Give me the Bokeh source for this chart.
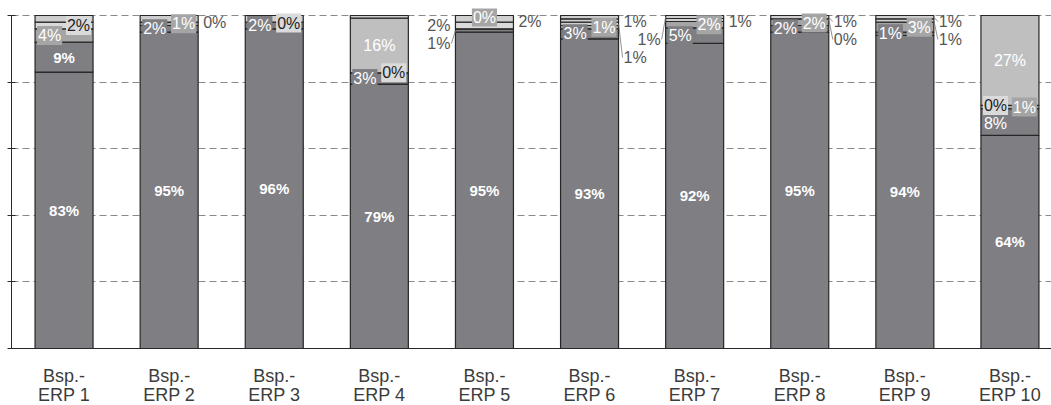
from bokeh.plotting import figure
from bokeh.models import Range1d, FixedTicker, ColumnDataSource, Span
from bokeh.embed import file_html
from bokeh.resources import INLINE
from bokeh.core.properties import value

# ---------------- data ----------------
CATEGORIES = ["Bsp.-\nERP 1", "Bsp.-\nERP 2", "Bsp.-\nERP 3", "Bsp.-\nERP 4", "Bsp.-\nERP 5",
              "Bsp.-\nERP 6", "Bsp.-\nERP 7", "Bsp.-\nERP 8", "Bsp.-\nERP 9", "Bsp.-\nERP 10"]
# stacked shares in percent, bottom to top (None = segment not present)
S1 = [83, 95, 96, 79.4, 95, 93, 91.6, 95, 94, 64]
S2 = [9, 2, 2, 3.4, 1, 3, 4.7, 2, 1, 8]
S3 = [4, 1, None, None, 0, 1, 1.9, 2, 3, 1]
S4 = [2, 0, 0, 0, 2, None, None, None, None, 0]
S5 = [None, None, None, 16.4, None, None, None, None, None, 27]
S6 = [None, None, None, None, 2, 1, 0.9, 0, 1, None]
S7 = [None, None, None, None, None, 1, 0.9, 1, 1, None]
REST = [2, 2, 2, 0.8, 0, 1, 0, 0, 0, 0]
Y_TICKS = [0, 20, 40, 60, 80, 100]

SERIES = [S1, S2, S3, S4, S5, S6, S7, REST]

# ---------------- styles ----------------
# label placement per series / bar: c=centre, l/r=inside left/right, t=top centre,
# ol/or=outside left/right, None=no label
PLACE = [
    ["c"] * 10,
    ["c", "l", "l", "l", "ol", "l", "l", "l", "l", "l"],
    ["l", "r", None, None, "t", "r", "r", "r", "r", "r"],
    ["r", "or", "r", "r", "ol", None, None, None, None, "l"],
    [None, None, None, "c", None, None, None, None, None, "c"],
    [None, None, None, None, "or", "or", "or", "or", "or", None],
    [None, None, None, None, None, "or", "ol", "or", "or", None],
    [None] * 10,
]
FILL = ["#7e7e83", "#7e7e83", "#a5a5a5", "#dadada", "#bfbfbf", "#d0d0d0", "#d0d0d0", "#cdcdcd"]
INK = ["#ffffff", "#ffffff", "#ffffff", "#1e1e1e", "#ffffff", "#555555", "#555555", "#555555"]
FONT = value("Liberation Sans")

W, H = 1051, 405
LEFT, TOP = 11, 8
FRAME_W, FRAME_H = W - LEFT, H - TOP
PPY = 333 / 100.0            # pixels per percent
PPX = 105.1                  # pixels per category
X_END = FRAME_W / PPX
Y_END = 100 + 7 / PPY
Y_START = Y_END - FRAME_H / PPY
BAR_W = 58 / PPX
FULL = Y_TICKS[-1]

xs = [i + 0.5 for i in range(len(CATEGORIES))]

seg = dict(x=[], bottom=[], top=[], color=[])
labels = []
for i, xc in enumerate(xs):
    base = 0.0
    for k, ser in enumerate(SERIES):
        v = ser[i]
        if v is None:
            continue
        b, t = base, base + v
        seg["x"].append(xc)
        seg["bottom"].append(b)
        seg["top"].append(t)
        seg["color"].append(FILL[k])
        base = t
        pl = PLACE[k][i]
        if pl:
            labels.append(dict(bar=i, k=k, xc=xc, v=v, place=pl, ymid=(b + t) / 2,
                               text=f"{round(v)}%"))

# vertical placement with simple collision avoidance
groups = {}
for d in labels:
    pl, i = d["place"], d["bar"]
    if pl == "c":
        d["y"] = d["ymid"]
        continue
    if pl == "t":
        d["y"] = FULL - 1.5 / PPY
        continue
    if pl in ("l", "r"):
        key = (pl, i)
        cap = FULL - 7.5 / PPY
    else:
        key = ("g", i if pl == "or" else i - 1)
        cap = FULL - 6 / PPY
    d["y0"] = min(d["ymid"], cap)
    groups.setdefault(key, []).append(d)
for key, g in groups.items():
    g.sort(key=lambda d: (-d["y0"], d["bar"], -d["ymid"]))
    prev = None
    for d in g:
        y = d["y0"] if prev is None else min(d["y0"], prev - 18 / PPY)
        d["y"] = y
        prev = y

p = figure(width=W, height=H, output_backend="svg", toolbar_location=None,
           x_range=Range1d(0, X_END), y_range=Range1d(Y_START, Y_END),
           min_border=0, min_border_left=LEFT, min_border_right=0, min_border_top=TOP,
           min_border_bottom=0, outline_line_color=None, background_fill_color="white",
           border_fill_color="white")

# grid
p.xgrid.visible = False
p.ygrid.ticker = FixedTicker(ticks=Y_TICKS[1:])
p.ygrid.grid_line_color = "#8a8a8a"
p.ygrid.grid_line_dash = "7 4"
p.ygrid.grid_line_width = 1

# axes
p.xaxis.visible = False
p.yaxis.ticker = FixedTicker(ticks=Y_TICKS)
p.yaxis.major_label_overrides = {t: "" for t in Y_TICKS}
p.yaxis.major_label_standoff = 0
p.yaxis.major_tick_in = 4
p.yaxis.major_tick_out = 4
p.yaxis.minor_tick_line_color = None
p.yaxis.axis_line_color = "#2a2a2a"
p.yaxis.major_tick_line_color = "#2a2a2a"
p.yaxis.bounds = (0, FULL)

# category axis baseline
p.add_layout(Span(location=Y_TICKS[0], dimension="width", line_color="#2a2a2a", line_width=1))

# category labels
p.text(x=xs, y=[Y_TICKS[0]] * len(xs), text=CATEGORIES, text_align="center",
       text_baseline="top", y_offset=17, text_font=FONT, text_font_size=value("18px"),
       text_color="#3c3c3c", text_line_height=0.96)

# bars
p.vbar(x="x", bottom="bottom", top="top", width=BAR_W, fill_color="color",
       line_color="#262626", line_width=1.2, source=ColumnDataSource(seg))

# leader lines for displaced outside labels
lead = dict(x0=[], y0=[], x1=[], y1=[])
for d in labels:
    if d["place"] in ("ol", "or") and abs(d["y"] - d["ymid"]) * PPY > 3:
        sgn = -1 if d["place"] == "ol" else 1
        edge = d["xc"] + sgn * BAR_W / 2
        lead["x0"].append(edge)
        lead["y0"].append(d["ymid"])
        lead["x1"].append(edge + sgn * 4 / PPX)
        lead["y1"].append(d["y"])
p.segment(x0="x0", y0="y0", x1="x1", y1="y1", line_color="#777777", line_width=0.8,
          source=ColumnDataSource(lead))


def add_text(sel, xfun, align, size, style, xoff, boxed):
    src = dict(x=[], y=[], text=[], ink=[], bg=[])
    for d in sel:
        src["x"].append(xfun(d))
        src["y"].append(d["y"])
        src["text"].append(d["text"])
        src["ink"].append(INK[d["k"]] if d["place"] not in ("ol", "or") else "#555555")
        src["bg"].append(FILL[d["k"]])
    if not src["x"]:
        return
    kw = {}
    if boxed:
        kw = dict(background_fill_color="bg", padding=1)
    p.text(x="x", y="y", text="text", text_color="ink", text_align=align,
           text_baseline="middle", text_font=FONT, text_font_size=value(size),
           text_font_style=style, x_offset=xoff, source=ColumnDataSource(src), **kw)


add_text([d for d in labels if d["place"] == "c" and d["k"] in (0, 1)],
         lambda d: d["xc"], "center", "15px", "bold", 0, False)
add_text([d for d in labels if d["place"] == "c" and d["k"] not in (0, 1)],
         lambda d: d["xc"], "center", "16px", "normal", 0, False)
add_text([d for d in labels if d["place"] == "l"],
         lambda d: d["xc"] - BAR_W / 2, "left", "16px", "normal", 2, True)
add_text([d for d in labels if d["place"] == "r"],
         lambda d: d["xc"] + BAR_W / 2, "right", "16px", "normal", -2, True)
add_text([d for d in labels if d["place"] == "t"],
         lambda d: d["xc"], "center", "16px", "normal", 0, True)
add_text([d for d in labels if d["place"] == "ol"],
         lambda d: d["xc"] - BAR_W / 2, "right", "16px", "normal", -5, False)
add_text([d for d in labels if d["place"] == "or"],
         lambda d: d["xc"] + BAR_W / 2, "left", "16px", "normal", 5, False)

open("out.html", "w").write(file_html(p, INLINE))
